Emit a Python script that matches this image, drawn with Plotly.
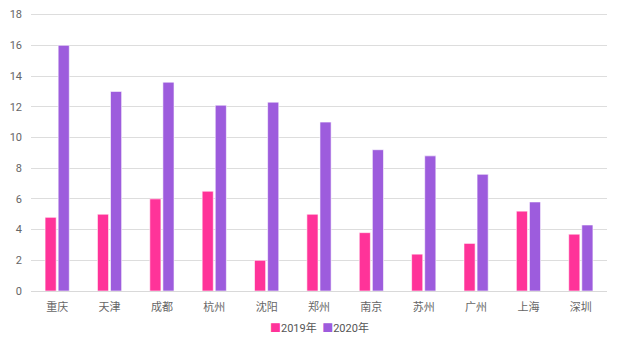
import plotly.graph_objects as go

cities = ["重庆", "天津", "成都", "杭州", "沈阳", "郑州", "南京", "苏州", "广州", "上海", "深圳"]
v2019 = [4.8, 5.0, 6.0, 6.5, 2.0, 5.0, 3.8, 2.4, 3.1, 5.2, 3.7]
v2020 = [16.0, 13.0, 13.6, 12.1, 12.3, 11.0, 9.2, 8.8, 7.6, 5.8, 4.3]
y_ticks = [0, 2, 4, 6, 8, 10, 12, 14, 16, 18]
names = ["2019年", "2020年"]
colors = ["#FF3399", "#9D5CDD"]

font = "Roboto, 'Noto Sans CJK SC', sans-serif"

fig = go.Figure()
fig.add_bar(x=cities, y=v2019, name=names[0], marker=dict(color=colors[0], line=dict(color="#ffffff", width=0.6)))
fig.add_bar(x=cities, y=v2020, name=names[1], marker=dict(color=colors[1], line=dict(color="#ffffff", width=0.6)))

legend_text = "  ".join(
    f'<span style="color:{c}">■</span>{n}' for n, c in zip(names, colors)
)
fig.add_annotation(text=legend_text, xref="paper", yref="paper", x=0.5, y=-37 / 283,
                   xanchor="center", yanchor="middle", showarrow=False,
                   font=dict(size=11, color="#555555"))

fig.update_layout(
    width=629, height=339,
    margin=dict(l=31, r=22, t=8, b=48),
    paper_bgcolor="white", plot_bgcolor="white",
    barmode="group", bargap=0.5, bargroupgap=0.15,
    font=dict(family=font, size=11, color="#666666"),
    showlegend=False,
    xaxis=dict(showgrid=False, showline=True, linecolor="#d9d9d9", ticks="", ticklabelstandoff=6,
               tickfont=dict(size=11, color="#666666")),
    yaxis=dict(range=[0, 18.3], tickvals=y_ticks, showgrid=True, gridcolor="#dddddd", gridwidth=1,
               zeroline=False, ticks="", tickfont=dict(size=11, color="#666666"), ticklabelstandoff=8),
)

fig.write_html("out.html")
